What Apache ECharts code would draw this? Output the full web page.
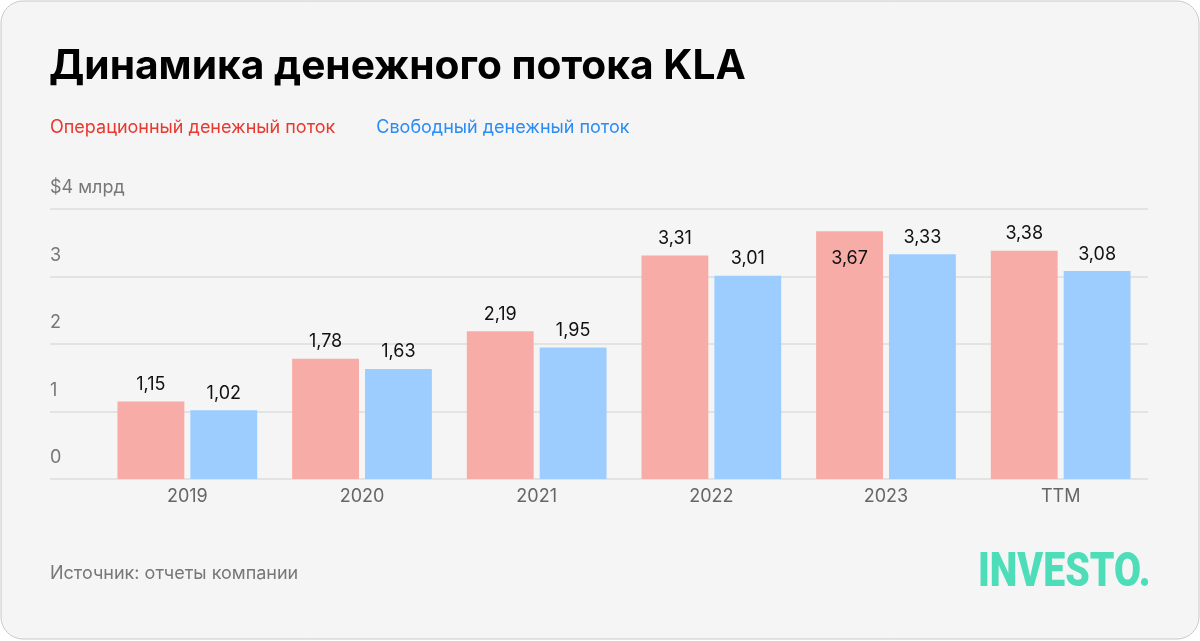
<!DOCTYPE html>
<html><head><meta charset="utf-8">
<script src="https://cdn.jsdelivr.net/npm/echarts@6/dist/echarts.min.js"></script>
<style>html,body{margin:0;padding:0;background:#fff;}#c{width:1200px;height:641px;}</style>
</head><body><div id="c"></div>
<script>
const categories = ['2019','2020','2021','2022','2023','TTM'];
const operatingCF = [1.15, 1.78, 2.19, 3.31, 3.67, 3.38];
const freeCF = [1.02, 1.63, 1.95, 3.01, 3.33, 3.08];
const yTickLabels = ['0','1','2','3','$4 млрд'];
const seriesNames = ['Операционный денежный поток','Свободный денежный поток'];

const fmt = v => String(v.toFixed(2)).replace('.', ',');
const chart = echarts.init(document.getElementById('c'));
const labelBase = {show:true, position:'top', distance:8, color:'#111', fontSize:18, fontFamily:'Inter', formatter:p=>fmt(p.value)};
chart.setOption({
  backgroundColor:'#fff',
  animation:false,
  graphic:[
    {type:'rect', shape:{x:1,y:1,width:1198,height:638,r:22}, style:{fill:'#F5F5F5', stroke:'#C8C8C8', lineWidth:1}, z:-10},
    {type:'text', left:49, top:46, style:{text:'Динамика денежного потока KLA', fill:'#000', font:'bold 40.7px Inter'}},
    {type:'text', left:50, top:565, style:{text:'Источник: отчеты компании', fill:'#777', font:'18px Inter'}},
    {type:'text', x:978, y:549, scaleX:0.8, style:{text:'INVESTO.', fill:'#4DDDB8', font:'900 49px Roboto'}}
  ],
  legend:{
    left:45, top:119, icon:'none', itemWidth:0, itemGap:36, selectedMode:false, padding:0,
    textStyle:{fontSize:18, fontFamily:'Inter', padding:0},
    data:[{name:seriesNames[0], textStyle:{color:'#E8382F'}},{name:seriesNames[1], textStyle:{color:'#2A8CF5'}}]
  },
  grid:[
    {left:50, right:52, top:209, bottom:162},
    {left:100, right:52, top:209, bottom:162}
  ],
  xAxis:[
    {gridIndex:0, type:'value', show:false, min:0, max:1},
    {gridIndex:1, type:'category', data:categories,
     axisLine:{show:false}, axisTick:{show:false},
     axisLabel:{color:'#666', fontSize:18, fontFamily:'Inter', margin:9}}
  ],
  yAxis:[
    {gridIndex:0, type:'value', min:0, max:4, interval:1,
     splitLine:{lineStyle:{color:'#E3E3E3', width:2}},
     axisLine:{show:false}, axisTick:{show:false},
     axisLabel:{inside:true, color:'#777', fontSize:18, fontFamily:'Inter', verticalAlign:'bottom', padding:[0,0,12,0], margin:0,
       formatter:(v,i)=>yTickLabels[i]}},
    {gridIndex:1, type:'value', min:0, max:4, interval:1, show:false}
  ],
  series:[
    {name:seriesNames[0], type:'bar', xAxisIndex:1, yAxisIndex:1, barGap:'9%', barCategoryGap:'20%',
     itemStyle:{color:'#F7ACA7'},
     data:operatingCF.map((v,i)=> v>3.5 ? {value:v, label:{position:'insideTop', distance:18}} : v),
     label:labelBase},
    {name:seriesNames[1], type:'bar', xAxisIndex:1, yAxisIndex:1,
     itemStyle:{color:'#9DCDFE'},
     data:freeCF, label:labelBase}
  ]
});
</script></body></html>
